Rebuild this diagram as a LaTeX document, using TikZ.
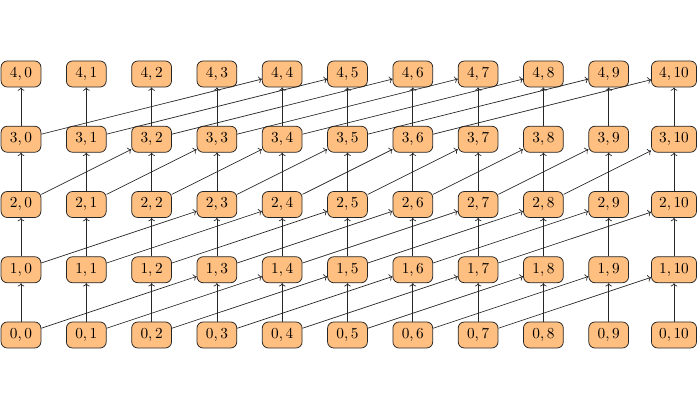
\documentclass[tikz,border=0pt]{standalone}
\usetikzlibrary{arrows.meta}
\begin{document}
\begin{tikzpicture}[x=0.6536pt,y=-0.6536pt,
  cell/.style={draw=black!85, fill=orange!50, rounded corners=4pt, line width=0.5pt,
    minimum height=17pt, minimum width=26pt, inner xsep=5pt, inner ysep=2pt},
  link/.style={draw=black!85, line width=0.45pt, -{To[length=2.2pt,width=4.4pt]}}]
\useasboundingbox (0,0) rectangle (700,409);
\foreach \i in {0,...,4}{
  \foreach \j in {0,...,10}{
    \node[cell] (n\i-\j) at ({21+65.3*\j},{335-65.25*\i}) {$\i, \j$};
  }
}
% vertical links
\foreach \i [evaluate=\i as \k using int(\i+1)] in {0,...,3}{
  \foreach \j in {0,...,10}{
    \draw[link] (n\i-\j) -- (n\k-\j);
  }
}
% diagonal links: row 0->1 shift 3, 1->2 shift 3, 2->3 shift 2, 3->4 shift 4
\foreach \j [evaluate=\j as \t using int(\j+3)] in {0,...,7}{
  \draw[link] (n0-\j) -- (n1-\t);
  \draw[link] (n1-\j) -- (n2-\t);
}
\foreach \j [evaluate=\j as \t using int(\j+2)] in {0,...,8}{
  \draw[link] (n2-\j) -- (n3-\t);
}
\foreach \j [evaluate=\j as \t using int(\j+4)] in {0,...,6}{
  \draw[link] (n3-\j) -- (n4-\t);
}
\end{tikzpicture}
\end{document}
